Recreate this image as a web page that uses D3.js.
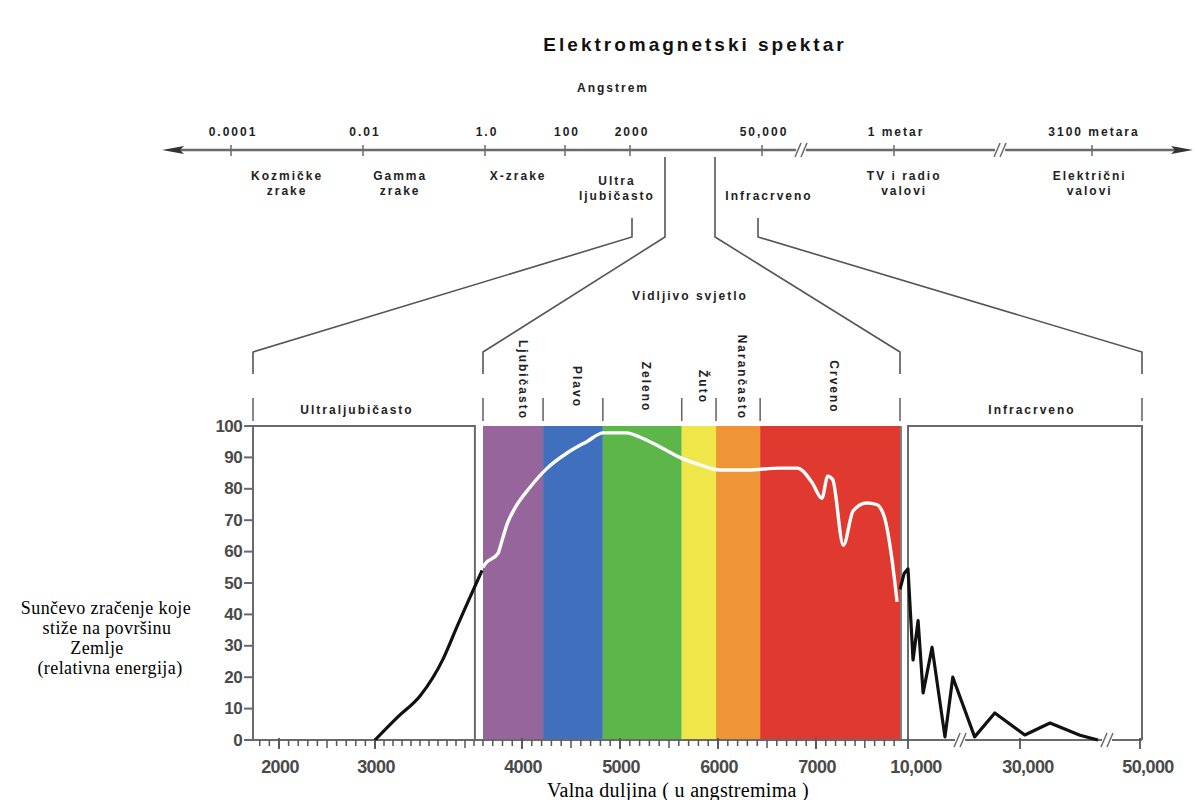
<!DOCTYPE html>
<html>
<head>
<meta charset="utf-8">
<script src="https://cdn.jsdelivr.net/npm/d3@7"></script>
<style>
  body { margin: 0; background: #fff; }
  text { font-family: "Liberation Sans", Arial, sans-serif; }
  .serif { font-family: "Liberation Serif", "Times New Roman", serif; }
</style>
</head>
<body>
<div id="app"></div>
<script>
// ---- data ----
const yTicks = [0, 10, 20, 30, 40, 50, 60, 70, 80, 90, 100];
const xTickValues = [2000, 3000, 4000, 5000, 6000, 7000, 10000, 30000, 50000];
const xTickLabels = ["2000", "3000", "4000", "5000", "6000", "7000", "10,000", "30,000", "50,000"];

const bandNames = ["Ljubičasto", "Plavo", "Zeleno", "Žuto", "Narančasto", "Crveno"];
const bandEdges = [3600, 4215, 4825, 5630, 5980, 6430, 7860];
const bandColors = ["#96659c", "#3f6fbd", "#5cb64a", "#efe64a", "#ef9535", "#e0392f"];

// [wavelength in angstrom, relative energy]
const uvCurve = [[3000, 0], [3130, 7.5], [3250, 14], [3380, 26], [3455, 36], [3595, 54]];
const visCurve = [[3600, 55], [3620, 56], [3755, 59.5], [3790, 63], [3850, 69], [3930, 74], [4082, 80.5],
  [4255, 86.5], [4460, 91.4], [4660, 95], [4830, 97.8], [5070, 97.8], [5200, 96.5], [5410, 93.3],
  [5610, 90], [5820, 87.6], [6020, 86], [6300, 86], [6630, 86.6], [6810, 86.6], [6960, 82],
  [7060, 77], [7120, 84], [7170, 83], [7280, 62], [7380, 73], [7520, 75.5], [7620, 75],
  [7700, 71], [7780, 57], [7830, 44]];
const irCurve = [[7860, 48], [8950, 53], [10000, 54.5], [10900, 25.5], [11800, 38], [12700, 15],
  [14300, 29.5], [16600, 1], [18000, 20], [21900, 1], [25500, 8.6], [30800, 1.6], [35000, 5.4],
  [40000, 1.5], [43000, 0]];

// top spectrum axis (log10 of angstrom)
const topTickLabels = ["0.0001", "0.01", "1.0", "100", "2000", "50,000", "1 metar", "3100 metara"];
const topTickLog = [-4, -2, 0, 2, Math.log10(2000), Math.log10(50000), 10, Math.log10(3.1e13)];
const regionNames = [["Kozmičke", "zrake"], ["Gamma", "zrake"], ["X-zrake"], ["Ultra", "ljubičasto"],
  ["Infracrveno"], ["TV i radio", "valovi"], ["Električni", "valovi"]];
const regionLog = [-3.15, -1.39, 0.83, 3.04, 4.98, 10.18, 13.45];

// ---- layout ----
const W = 1195, H = 800;
const svg = d3.select("#app").append("svg").attr("width", W).attr("height", H);

const yScale = d3.scaleLinear().domain([0, 100]).range([740, 426]);
const xScale = d3.scaleLinear()
  .domain([1730, 2000, 3000, 3600, 4000, 5000, 6000, 7000, 7860, 10000, 30000, 50000])
  .range([253, 279, 375, 483, 522, 620, 718, 816, 900, 908, 1020, 1140]);
const topScale = d3.scaleLinear().domain(topTickLog)
  .range([231, 363, 485, 565, 630, 762, 894, 1092]);

const grey = "#6a6a6a";
const smallFont = (sel) => sel.attr("font-size", 12).attr("font-weight", "bold")
  .attr("letter-spacing", 2).attr("fill", "#222");

// title
svg.append("text").attr("x", 695).attr("y", 51).attr("text-anchor", "middle")
  .attr("font-size", 19).attr("font-weight", "bold").attr("letter-spacing", 3).attr("fill", "#111")
  .text("Elektromagnetski spektar");

svg.append("text").attr("x", 613).attr("y", 92).attr("text-anchor", "middle")
  .call(smallFont).text("Angstrem");

// top axis with arrows
const topY = 150;
svg.append("line").attr("x1", 172).attr("x2", 1182).attr("y1", topY).attr("y2", topY)
  .attr("stroke", grey).attr("stroke-width", 2.5);
svg.append("path").attr("d", `M162,${topY} L184,${topY - 4} L180,${topY} L184,${topY + 4} Z`).attr("fill", "#333");
svg.append("path").attr("d", `M1193,${topY} L1171,${topY - 4} L1175,${topY} L1171,${topY + 4} Z`).attr("fill", "#333");

svg.selectAll(".ttick").data(topTickLog).enter().append("line")
  .attr("x1", d => topScale(d)).attr("x2", d => topScale(d))
  .attr("y1", topY - 5).attr("y2", topY + 6).attr("stroke", grey).attr("stroke-width", 1.5);
svg.selectAll(".tlab").data(topTickLabels).enter().append("text")
  .attr("x", (d, i) => topScale(topTickLog[i]) + 2).attr("y", 136).attr("text-anchor", "middle")
  .call(smallFont).text(d => d);

function breakMark(x, y) {
  svg.append("rect").attr("x", x - 5).attr("y", y - 4).attr("width", 10).attr("height", 8).attr("fill", "#fff");
  [-3, 3].forEach(o => svg.append("line")
    .attr("x1", x + o - 3).attr("y1", y + 7).attr("x2", x + o + 3).attr("y2", y - 7)
    .attr("stroke", grey).attr("stroke-width", 1.5));
}
[6.265, 11.87].forEach(v => breakMark(topScale(v), topY));

regionNames.forEach((lines, i) => {
  const lower = i === 3 || i === 4;
  const y0 = i === 4 ? 200 : (lower ? 185 : 180);
  lines.forEach((t, j) => {
    svg.append("text").attr("x", topScale(regionLog[i])).attr("y", y0 + j * 15)
      .attr("text-anchor", "middle").call(smallFont).text(t);
  });
});

// bracket lines from the spectrum down to the panels
const bracket = (xTop, yStart, xBot) => {
  svg.append("path")
    .attr("d", `M${xTop},${yStart} L${xTop},237 L${xBot},352 L${xBot},374`)
    .attr("fill", "none").attr("stroke", "#555").attr("stroke-width", 1.6);
};
bracket(632, 218, xScale(1730));
bracket(665, 157, xScale(3600));
bracket(715, 157, xScale(7860));
bracket(758, 218, xScale(50000) + 2);

svg.append("text").attr("x", 690).attr("y", 300).attr("text-anchor", "middle")
  .call(smallFont).text("Vidljivo svjetlo");

// ---- bottom chart ----
const yTop = yScale(100), yBase = yScale(0);

// colour bands
svg.selectAll(".band").data(bandNames).enter().append("rect")
  .attr("x", (d, i) => xScale(bandEdges[i]))
  .attr("width", (d, i) => xScale(bandEdges[i + 1]) - xScale(bandEdges[i]))
  .attr("y", yTop).attr("height", yBase - yTop)
  .attr("fill", (d, i) => bandColors[i]);

// header dividers
const dividers = [1730].concat(bandEdges, [50000]);
svg.selectAll(".div").data(dividers).enter().append("line")
  .attr("x1", d => xScale(d) + (d === 50000 ? 2 : 0)).attr("x2", d => xScale(d) + (d === 50000 ? 2 : 0))
  .attr("y1", 398).attr("y2", 421).attr("stroke", grey).attr("stroke-width", 1.6);

// panel frames
const uvRight = xScale(3555);
svg.append("path").attr("d", `M${xScale(1730)},${yTop} L${uvRight},${yTop} L${uvRight},${yBase}`)
  .attr("fill", "none").attr("stroke", grey).attr("stroke-width", 2);
const irLeft = xScale(10000), irRight = xScale(50000) + 2;
svg.append("path").attr("d", `M${irLeft},${yBase} L${irLeft},${yTop} L${irRight},${yTop} L${irRight},${yBase}`)
  .attr("fill", "none").attr("stroke", grey).attr("stroke-width", 2);
svg.append("line").attr("x1", xScale(7860) + 1).attr("x2", xScale(7860) + 1).attr("y1", yTop).attr("y2", yBase)
  .attr("stroke", "#555").attr("stroke-width", 1.5);

// band labels (rotated)
svg.selectAll(".blab").data(bandNames).enter().append("text")
  .attr("text-anchor", "middle").attr("dominant-baseline", "central")
  .call(smallFont)
  .text(d => d)
  .each(function (d, i) {
    const len = this.getComputedTextLength();
    const cx = (xScale(bandEdges[i]) + xScale(bandEdges[i + 1])) / 2 + (i === 0 ? 10 : 4);
    const cy = Math.min(387, 420 - len / 2);
    d3.select(this).attr("transform", `translate(${cx},${cy}) rotate(90)`);
  });

svg.append("text").attr("x", 357).attr("y", 414).attr("text-anchor", "middle").call(smallFont).text("Ultraljubičasto");
svg.append("text").attr("x", 1032).attr("y", 414).attr("text-anchor", "middle").call(smallFont).text("Infracrveno");

// y axis
svg.append("line").attr("x1", 253).attr("x2", 253).attr("y1", yTop).attr("y2", yBase)
  .attr("stroke", grey).attr("stroke-width", 2);
svg.selectAll(".ytick").data(yTicks).enter().append("line")
  .attr("x1", 244).attr("x2", 253).attr("y1", d => yScale(d)).attr("y2", d => yScale(d))
  .attr("stroke", grey).attr("stroke-width", 2);
svg.selectAll(".ylab").data(yTicks).enter().append("text")
  .attr("x", 242).attr("y", d => yScale(d)).attr("text-anchor", "end").attr("dominant-baseline", "central")
  .attr("font-size", 17).attr("font-weight", "bold").attr("letter-spacing", -0.6).attr("fill", "#4a4a4a")
  .text(d => d);

// x axis
svg.append("line").attr("x1", 253).attr("x2", xScale(50000) + 2).attr("y1", yBase).attr("y2", yBase)
  .attr("stroke", grey).attr("stroke-width", 2);
const minorTicks = d3.range(1800, 3000, 100).concat(d3.range(3000, 3600, 50), d3.range(3600, 7900, 100));
svg.selectAll(".mtick").data(minorTicks).enter().append("line")
  .attr("x1", d => xScale(d)).attr("x2", d => xScale(d))
  .attr("y1", yBase).attr("y2", d => yBase + (d % 500 === 0 ? 8 : 6))
  .attr("stroke", "#555").attr("stroke-width", 1.5);
svg.selectAll(".xtick").data(xTickValues).enter().append("line")
  .attr("x1", d => xScale(d)).attr("x2", d => xScale(d))
  .attr("y1", yBase - 2).attr("y2", yBase + 9)
  .attr("stroke", "#555").attr("stroke-width", 1.8);
svg.selectAll(".xlab").data(xTickLabels).enter().append("text")
  .attr("x", (d, i) => xScale(xTickValues[i]) + (xTickValues[i] >= 10000 ? 8 : 1))
  .attr("y", 767).attr("text-anchor", "middle").attr("dominant-baseline", "central")
  .attr("font-size", 18).attr("font-weight", "bold").attr("letter-spacing", -0.6).attr("fill", "#4a4a4a")
  .text(d => d);

// curves
const line = d3.line().x(d => xScale(d[0])).y(d => yScale(d[1]));
svg.append("path").datum(uvCurve).attr("d", line.curve(d3.curveMonotoneX))
  .attr("fill", "none").attr("stroke", "#111").attr("stroke-width", 3.2);
svg.append("path").datum(visCurve).attr("d", line.curve(d3.curveMonotoneX))
  .attr("fill", "none").attr("stroke", "#fff").attr("stroke-width", 3.4).attr("stroke-linejoin", "round");
svg.append("path").datum(irCurve).attr("d", line.curve(d3.curveLinear))
  .attr("fill", "none").attr("stroke", "#111").attr("stroke-width", 3.2).attr("stroke-linejoin", "round");

[19300, 44500].forEach(v => breakMark(xScale(v), yBase));

// axis titles
const yLabelLines = ["Sunčevo zračenje koje", "stiže na površinu", "Zemlje", "(relativna energija)"];
const yLabelShift = [0, 1, -9, 4];
yLabelLines.forEach((t, i) => {
  svg.append("text").attr("class", "serif").attr("x", 106 + yLabelShift[i]).attr("y", 614 + i * 20)
    .attr("text-anchor", "middle").attr("font-size", 18).attr("letter-spacing", 0.4).attr("fill", "#000").text(t);
});
svg.append("text").attr("class", "serif").attr("x", 678).attr("y", 797)
  .attr("text-anchor", "middle").attr("font-size", 20).attr("letter-spacing", 0.3).attr("fill", "#000")
  .text("Valna duljina ( u angstremima )");
</script>
</body>
</html>
